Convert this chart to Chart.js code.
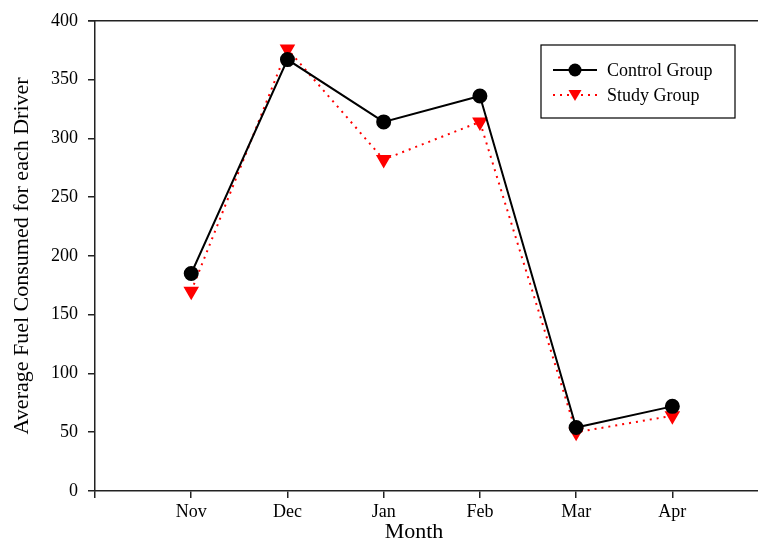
<!DOCTYPE html>
<html>
<head>
<meta charset="utf-8">
<script src="https://cdn.jsdelivr.net/npm/chart.js@4.4.0/dist/chart.umd.min.js"></script>
<style>
    body { margin: 0; background: #fff; }
    canvas { display: block; }
</style>
</head>
<body>
<canvas id="fuel-chart" width="758" height="542"></canvas>
<script>
const months = ['Nov', 'Dec', 'Jan', 'Feb', 'Mar', 'Apr'];
const controlGroup = [185, 367, 314, 336, 54, 72];
const studyGroup = [170, 376, 282, 314, 50, 64];
const yTicks = [0, 50, 100, 150, 200, 250, 300, 350, 400];

const serif = "'Liberation Serif', 'Times New Roman', serif";

function toPoints( values )
{
    return values.map( ( v, i ) => ( { x: i + 1, y: v } ) );
}

// top border, legend box and the x title
const decorPlugin = {
    id: 'decor',
    afterDraw( chart ) {
        const ctx = chart.ctx;
        const area = chart.chartArea;
        ctx.save();
        ctx.strokeStyle = '#222';
        ctx.lineWidth = 1.5;
        ctx.beginPath();
        ctx.moveTo( area.left - 7, area.top );
        ctx.lineTo( chart.width, area.top );
        ctx.stroke();

        // legend
        ctx.lineWidth = 1.2;
        ctx.strokeStyle = '#000';
        ctx.strokeRect( 541, 45, 194, 73 );

        const items = [
            { label: 'Control Group', y: 70, color: '#000', dash: [], style: 'circle' },
            { label: 'Study Group', y: 95, color: '#ff0000', dash: [2, 5], style: 'triangle' }
        ];
        items.forEach( it => {
            ctx.strokeStyle = it.color;
            ctx.fillStyle = it.color;
            ctx.lineWidth = 2;
            ctx.setLineDash( it.dash );
            ctx.beginPath();
            ctx.moveTo( 553, it.y );
            ctx.lineTo( 597, it.y );
            ctx.stroke();
            ctx.setLineDash( [] );
            ctx.beginPath();
            if ( it.style === 'circle' ) {
                ctx.arc( 575, it.y, 6.5, 0, Math.PI * 2 );
            } else {
                ctx.moveTo( 568.5, it.y - 5 );
                ctx.lineTo( 581.5, it.y - 5 );
                ctx.lineTo( 575, it.y + 6 );
                ctx.closePath();
            }
            ctx.fill();
            ctx.fillStyle = '#000';
            ctx.font = '18px ' + serif;
            ctx.textBaseline = 'middle';
            ctx.textAlign = 'left';
            ctx.fillText( it.label, 607, it.y + 1 );
        } );

        ctx.font = '22px ' + serif;
        ctx.textAlign = 'center';
        ctx.textBaseline = 'middle';
        ctx.fillStyle = '#000';
        ctx.fillText( 'Month', 414, 532 );
        ctx.restore();
    }
};

document.addEventListener('DOMContentLoaded', function(){

    const ctx = document.getElementById('fuel-chart').getContext('2d');
    new Chart( ctx, {
        type: 'line',
        data: {
            datasets: [
                {
                    label: 'Control Group',
                    data: toPoints( controlGroup ),
                    borderColor: '#000',
                    backgroundColor: '#000',
                    borderWidth: 2,
                    pointStyle: 'circle',
                    pointRadius: 6.5,
                    pointHoverRadius: 6.5,
                    tension: 0
                },
                {
                    label: 'Study Group',
                    data: toPoints( studyGroup ),
                    borderColor: '#ff0000',
                    backgroundColor: '#ff0000',
                    borderWidth: 2,
                    borderDash: [2, 5],
                    pointStyle: 'triangle',
                    pointRotation: 180,
                    pointRadius: 7,
                    pointHoverRadius: 7,
                    tension: 0
                }
            ]
        },
        options: {
            responsive: false,
            animation: false,
            layout: { autoPadding: false, padding: { top: 19, left: 0, right: 0, bottom: 0 } },
            plugins: {
                legend: { display: false },
                tooltip: { enabled: false }
            },
            scales: {
                x: {
                    type: 'linear',
                    min: 0,
                    max: 6.89,
                    afterBuildTicks: scale => {
                        scale.ticks = [0].concat( months.map( ( m, i ) => i + 1 ) ).map( v => ( { value: v } ) );
                    },
                    afterFit: scale => {
                        scale.height = 51;
                        scale.paddingLeft = 0;
                        scale.paddingRight = 0;
                    },
                    grid: {
                        drawOnChartArea: false,
                        drawTicks: true,
                        tickLength: 7,
                        color: '#222',
                        lineWidth: 1.5
                    },
                    border: { color: '#222', width: 1.5 },
                    ticks: {
                        color: '#000',
                        padding: 3,
                        maxRotation: 0,
                        font: { family: serif, size: 18 },
                        callback: v => months[v - 1] || ''
                    }
                },
                y: {
                    min: 0,
                    max: 400,
                    afterBuildTicks: scale => {
                        scale.ticks = yTicks.map( v => ( { value: v } ) );
                    },
                    afterFit: scale => { scale.width = 95; },
                    grid: {
                        drawOnChartArea: false,
                        drawTicks: true,
                        tickLength: 7,
                        color: '#222',
                        lineWidth: 1.5
                    },
                    border: { color: '#222', width: 1.5 },
                    ticks: {
                        color: '#000',
                        padding: 10,
                        font: { family: serif, size: 18 }
                    },
                    title: {
                        display: true,
                        text: 'Average Fuel Consumed for each Driver',
                        color: '#000',
                        font: { family: serif, size: 22 },
                        padding: { top: 9, bottom: 0 }
                    }
                }
            }
        },
        plugins: [decorPlugin]
    });

});
</script>
</body>
</html>
